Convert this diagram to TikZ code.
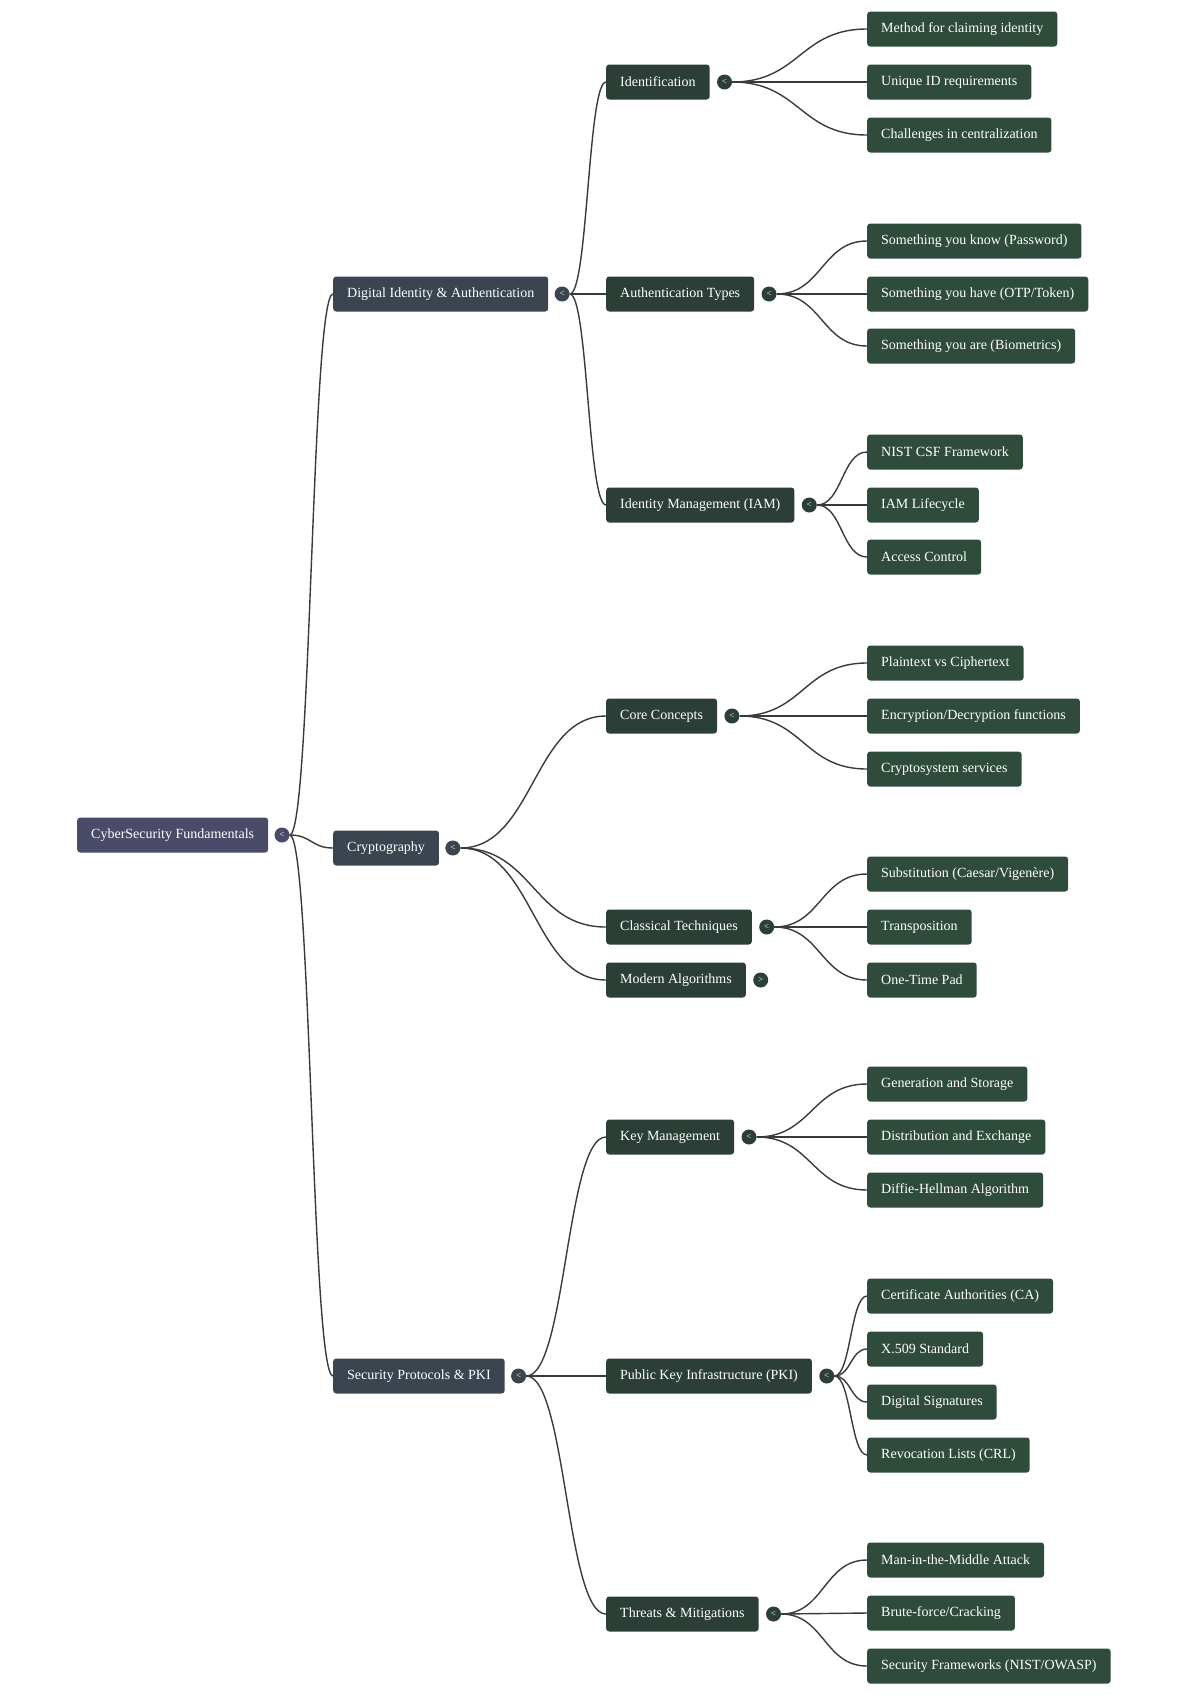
\documentclass[tikz,border=0pt]{standalone}
\usepackage{fontspec}
\setmainfont{Liberation Serif}
\usetikzlibrary{calc,positioning}
\definecolor{rootcol}{HTML}{4A4B68}
\definecolor{topiccol}{HTML}{3A4550}
\definecolor{subcol}{HTML}{2B3F37}
\definecolor{leafcol}{HTML}{2F4B3C}
\definecolor{linecol}{HTML}{3A3A3A}
\tikzset{%
        box/.style = {rectangle, rounded corners=3pt, text=white,
                      font=\fontsize{14}{16}\selectfont,
                      inner xsep=14pt, minimum height=35pt, anchor=west},
        rootbox/.style = {box, fill=rootcol},
        topicbox/.style = {box, fill=topiccol},
        subbox/.style = {box, fill=subcol},
        leafbox/.style = {box, fill=leafcol},
        toggle/.style = {circle, inner sep=0pt, minimum size=15pt, text=white,
                         font=\fontsize{9}{9}\selectfont},
        branch/.style = {to path={let \p1=(\tikztostart), \p2=(\tikztotarget) in
                         .. controls ({(\x1+\x2)/2},\y1) and ({(\x1+\x2)/2},\y2) .. (\tikztotarget) \tikztonodes}}
}
\tikzstyle{every edge}=[
    draw = linecol,
    line width = 1.4pt,
    branch
]

\begin{document}
\begin{tikzpicture}[x=1pt,y=-1pt]
            \useasboundingbox (0,0) rectangle (1200,1698);
            % root
            \node[rootbox] (root) at (77,835) {CyberSecurity Fundamentals};
            \node[toggle, fill=rootcol, right=6pt of root] (root-t) {<};
            % main topics
            \node[topicbox] (dia) at (333,294) {Digital Identity \& Authentication};
            \node[toggle, fill=topiccol, right=6pt of dia] (dia-t) {<};
            \node[topicbox] (crypto) at (333,848) {Cryptography};
            \node[toggle, fill=topiccol, right=6pt of crypto] (crypto-t) {<};
            \node[topicbox] (spp) at (333,1376) {Security Protocols \& PKI};
            \node[toggle, fill=topiccol, right=6pt of spp] (spp-t) {<};
            % sub topics
            \node[subbox] (ident) at (606,82) {Identification};
            \node[toggle, fill=subcol, right=7pt of ident] (ident-t) {<};
            \node[subbox] (authtypes) at (606,294) {Authentication Types};
            \node[toggle, fill=subcol, right=7pt of authtypes] (authtypes-t) {<};
            \node[subbox] (iam) at (606,505) {Identity Management (IAM)};
            \node[toggle, fill=subcol, right=7pt of iam] (iam-t) {<};
            \node[subbox] (core) at (606,716) {Core Concepts};
            \node[toggle, fill=subcol, right=7pt of core] (core-t) {<};
            \node[subbox] (classical) at (606,927) {Classical Techniques};
            \node[toggle, fill=subcol, right=7pt of classical] (classical-t) {<};
            \node[subbox] (modern) at (606,980) {Modern Algorithms};
            \node[toggle, fill=subcol, right=7pt of modern] (modern-t) {>};
            \node[subbox] (keymgmt) at (606,1137) {Key Management};
            \node[toggle, fill=subcol, right=7pt of keymgmt] (keymgmt-t) {<};
            \node[subbox] (pki) at (606,1376) {Public Key Infrastructure (PKI)};
            \node[toggle, fill=subcol, right=7pt of pki] (pki-t) {<};
            \node[subbox] (threats) at (606,1614) {Threats \& Mitigations};
            \node[toggle, fill=subcol, right=7pt of threats] (threats-t) {<};
            % leaves
            \node[leafbox] (claim) at (867,29) {Method for claiming identity};
            \node[leafbox] (uniqueid) at (867,82) {Unique ID requirements};
            \node[leafbox] (central) at (867,135) {Challenges in centralization};
            \node[leafbox] (know) at (867,241) {Something you know (Password)};
            \node[leafbox] (have) at (867,294) {Something you have (OTP/Token)};
            \node[leafbox] (are) at (867,346) {Something you are (Biometrics)};
            \node[leafbox] (nist) at (867,452) {NIST CSF Framework};
            \node[leafbox] (iamlife) at (867,505) {IAM Lifecycle};
            \node[leafbox] (access) at (867,557) {Access Control};
            \node[leafbox] (plain) at (867,663) {Plaintext vs Ciphertext};
            \node[leafbox] (encdec) at (867,716) {Encryption/Decryption functions};
            \node[leafbox] (cryptosvc) at (867,769) {Cryptosystem services};
            \node[leafbox] (subst) at (867,874) {Substitution (Caesar/Vigenère)};
            \node[leafbox] (transp) at (867,927) {Transposition};
            \node[leafbox] (otp) at (867,980) {One-Time Pad};
            \node[leafbox] (genstore) at (867,1084) {Generation and Storage};
            \node[leafbox] (distrib) at (867,1137) {Distribution and Exchange};
            \node[leafbox] (dh) at (867,1190) {Diffie-Hellman Algorithm};
            \node[leafbox] (ca) at (867,1296) {Certificate Authorities (CA)};
            \node[leafbox] (x509) at (867,1349) {X.509 Standard};
            \node[leafbox] (digsig) at (867,1402) {Digital Signatures};
            \node[leafbox] (crl) at (867,1455) {Revocation Lists (CRL)};
            \node[leafbox] (mitm) at (867,1560) {Man-in-the-Middle Attack};
            \node[leafbox] (brute) at (867,1613) {Brute-force/Cracking};
            \node[leafbox] (frameworks) at (867,1666) {Security Frameworks (NIST/OWASP)};
            \path
            (root-t.east)
            edge (dia.west)
            edge (crypto.west)
            edge (spp.west)
            (dia-t.east)
            edge (ident.west)
            edge (authtypes.west)
            edge (iam.west)
            (crypto-t.east)
            edge (core.west)
            edge (classical.west)
            edge (modern.west)
            (spp-t.east)
            edge (keymgmt.west)
            edge (pki.west)
            edge (threats.west)
            (ident-t.east)
            edge (claim.west)
            edge (uniqueid.west)
            edge (central.west)
            (authtypes-t.east)
            edge (know.west)
            edge (have.west)
            edge (are.west)
            (iam-t.east)
            edge (nist.west)
            edge (iamlife.west)
            edge (access.west)
            (core-t.east)
            edge (plain.west)
            edge (encdec.west)
            edge (cryptosvc.west)
            (classical-t.east)
            edge (subst.west)
            edge (transp.west)
            edge (otp.west)
            (keymgmt-t.east)
            edge (genstore.west)
            edge (distrib.west)
            edge (dh.west)
            (pki-t.east)
            edge (ca.west)
            edge (x509.west)
            edge (digsig.west)
            edge (crl.west)
            (threats-t.east)
            edge (mitm.west)
            edge (brute.west)
            edge (frameworks.west)
            ;
        \end{tikzpicture}
\end{document}
